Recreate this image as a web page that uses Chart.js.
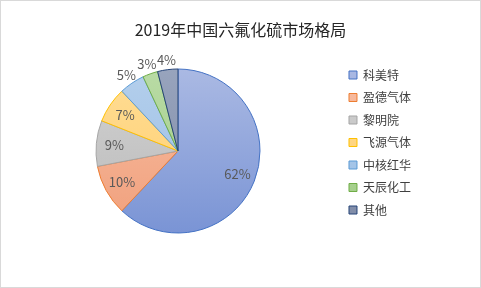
<!DOCTYPE html>
<html>
<head>
<meta charset="utf-8">
<script src="https://cdn.jsdelivr.net/npm/chart.js@4"></script>
<style>
  body { margin: 0; background: #fff; }
  .chart { position: relative; width: 481px; height: 288px; box-sizing: border-box; border: 1px solid #d9d9d9; }
  .chart__header {
    position: absolute; left: 0; right: 0; top: 18px; margin: 0;
    text-align: center; font: 16px/20px "Microsoft YaHei", "Noto Sans CJK SC", sans-serif;
    font-weight: normal; color: #262626;
  }
  .chart__canvas { display: block; }
</style>
</head>
<body>
<div class="chart">
  <h2 class="chart__header"></h2>
  <canvas class="chart__canvas" width="479" height="286"></canvas>
</div>
<script>
const chartTitle = '2019年中国六氟化硫市场格局'
const companies = ['科美特', '盈德气体', '黎明院', '飞源气体', '中核红华', '天辰化工', '其他']
const shares = [62, 10, 9, 7, 5, 3, 4]

// [light top, dark bottom, border]
const sliceColors = [
  ['#aab9e3', '#7a94d5', '#4472c4'],
  ['#f8bea3', '#f09f7b', '#ed7d31'],
  ['#d2d2d2', '#b9b9b9', '#a5a5a5'],
  ['#ffdd96', '#ffcd6a', '#ffc000'],
  ['#b4cfec', '#99bde4', '#5b9bd5'],
  ['#b9dba5', '#9fcb84', '#70ad47'],
  ['#98a4bd', '#7e8aa6', '#264478'],
]

const FONT = '"Microsoft YaHei", "Noto Sans CJK SC", sans-serif'
const PIE_RADIUS = 82

function sliceFill(context) {
  const [top, bottom] = sliceColors[context.dataIndex % sliceColors.length]
  const area = context.chart.chartArea
  if (!area) return top
  const cy = (area.top + area.bottom) / 2
  const g = context.chart.ctx.createLinearGradient(0, cy - PIE_RADIUS, 0, cy + PIE_RADIUS)
  g.addColorStop(0, top)
  g.addColorStop(1, bottom)
  return g
}

const percentLabels = {
  id: 'percentLabels',
  afterDatasetsDraw(chart) {
    const { ctx } = chart
    const meta = chart.getDatasetMeta(0)
    ctx.save()
    ctx.font = '13px ' + FONT
    ctx.fillStyle = '#595959'
    ctx.textAlign = 'center'
    ctx.textBaseline = 'middle'
    meta.data.forEach((arc, i) => {
      const { x, y, startAngle, endAngle, outerRadius } = arc.getProps(['x', 'y', 'startAngle', 'endAngle', 'outerRadius'])
      const mid = (startAngle + endAngle) / 2
      const dist = shares[i] >= 7 ? outerRadius * 0.78 : outerRadius + 10
      ctx.fillText(shares[i] + '%', x + Math.cos(mid) * dist, y + Math.sin(mid) * dist)
    })
    ctx.restore()
  },
}

document.querySelector('.chart__header').textContent = chartTitle
const ctx = document.querySelector('.chart__canvas').getContext('2d')

new Chart(ctx, {
  type: 'pie',
  data: {
    labels: companies,
    datasets: [{
      data: shares,
      backgroundColor: sliceFill,
      borderColor: sliceColors.map(c => c[2]),
      borderWidth: 1,
      radius: PIE_RADIUS,
    }],
  },
  options: {
    responsive: false,
    animation: false,
    layout: {
      padding: { left: 16.5, right: 59, top: 57.5, bottom: 43.5 },
    },
    plugins: {
      legend: {
        position: 'right',
        align: 'start',
        labels: {
          boxWidth: 8,
          boxHeight: 8,
          padding: 10.5,
          color: '#404040',
          font: { family: FONT, size: 12 },
        },
      },
      tooltip: { enabled: false },
    },
  },
  plugins: [percentLabels],
})
</script>
</body>
</html>
